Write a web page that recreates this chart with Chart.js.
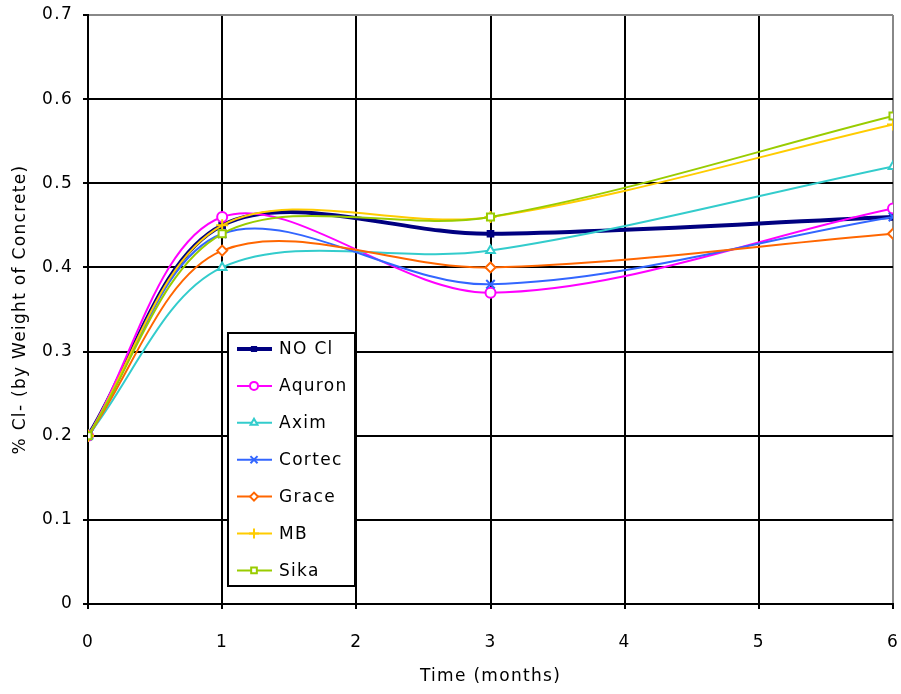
<!DOCTYPE html>
<html>
<head>
<meta charset="utf-8">
<script src="https://cdn.jsdelivr.net/npm/chart.js@4"></script>
<style>
  html, body { margin: 0; padding: 0; background: #fff; }
  #wrap { width: 901px; height: 694px; }
</style>
</head>
<body>
<div id="wrap"><canvas id="chart" width="901" height="694"></canvas></div>
<script>
'use strict';

/* ── Data ── */
const months = [0, 1, 3, 6];
const noCl   = [0.20, 0.45, 0.44, 0.46];
const aquron = [0.20, 0.46, 0.37, 0.47];
const axim   = [0.20, 0.40, 0.42, 0.52];
const cortec = [0.20, 0.44, 0.38, 0.46];
const grace  = [0.20, 0.42, 0.40, 0.44];
const mb     = [0.20, 0.45, 0.46, 0.57];
const sika   = [0.20, 0.44, 0.46, 0.58];

const FONT = '"DejaVu Sans", Arial, sans-serif';
const FSIZE = 17;
const SPACING = '1.3px';

function pts(vals) {
  return vals.map((v, i) => ({ x: months[i], y: v }));
}

function series(label, vals, color, style, opts) {
  return Object.assign({
    label,
    data: pts(vals),
    borderColor: color,
    backgroundColor: '#fff',
    pointBorderColor: color,
    pointBackgroundColor: '#fff',
    pointStyle: style,
    pointRadius: 5,
    pointBorderWidth: 2,
    borderWidth: 2,
    tension: 0.33,
  }, opts || {});
}

const datasets = [
  series('NO Cl',  noCl,   '#000080', 'rect',     { borderWidth: 4, pointBackgroundColor: '#000080', pointRadius: 4 }),
  series('Aquron', aquron, '#ff00ff', 'circle'),
  series('Axim',   axim,   '#33cccc', 'triangle'),
  series('Cortec', cortec, '#3366ff', 'crossRot', { pointRadius: 6 }),
  series('Grace',  grace,  '#ff6600', 'rectRot'),
  series('MB',     mb,     '#ffcc00', 'cross',    { pointRadius: 6 }),
  series('Sika',   sika,   '#99cc00', 'rect'),
];
// later series sit on top, as in the original
datasets.forEach((ds, i) => { ds.order = datasets.length - i; });

// wider text like the original rendering
const spacing = {
  id: 'spacing',
  beforeLayout(chart) { chart.ctx.letterSpacing = SPACING; },
  beforeDraw(chart)   { chart.ctx.letterSpacing = SPACING; },
};

/* ── Boxed legend drawn inside the plot ── */
const boxLegend = {
  id: 'boxLegend',
  afterDraw(chart) {
    const ctx = chart.ctx;
    const x0 = 228, y0 = 333, w = 127, h = 253;
    ctx.save();
    ctx.fillStyle = '#fff';
    ctx.fillRect(x0, y0, w, h);
    ctx.strokeStyle = '#000';
    ctx.lineWidth = 2;
    ctx.strokeRect(x0, y0, w, h);
    ctx.font = FSIZE + 'px ' + FONT;
    ctx.textBaseline = 'middle';
    chart.data.datasets.forEach((ds, i) => {
      const y = y0 + 16 + i * 36.9;
      ctx.strokeStyle = ds.borderColor;
      ctx.lineWidth = ds.borderWidth;
      ctx.beginPath();
      ctx.moveTo(x0 + 9, y);
      ctx.lineTo(x0 + 44, y);
      ctx.stroke();
      ctx.fillStyle = ds.pointBackgroundColor;
      ctx.strokeStyle = ds.pointBorderColor;
      ctx.lineWidth = 2;
      Chart.helpers.drawPoint(ctx, { pointStyle: ds.pointStyle, radius: ds.pointRadius - 1, rotation: 0, borderWidth: 2 }, x0 + 26, y);
      ctx.fillStyle = '#000';
      ctx.fillText(ds.label, x0 + 51, y + 1);
    });
    ctx.restore();
  }
};

function noPad(s) {
  s.paddingTop = 0; s.paddingBottom = 0; s.paddingLeft = 0; s.paddingRight = 0;
}

const tickFont = { size: FSIZE, family: FONT };

new Chart(document.getElementById('chart'), {
  type: 'line',
  data: { datasets },
  plugins: [spacing, boxLegend],
  options: {
    responsive: false,
    animation: false,
    layout: { padding: { top: 15, right: 8, left: 0, bottom: 0 } },
    plugins: {
      legend: { display: false },
      tooltip: { enabled: false },
    },
    scales: {
      x: {
        type: 'linear',
        min: 0, max: 6,
        afterFit: s => { s.height = 90; noPad(s); },
        ticks: { stepSize: 1, color: '#000', font: tickFont, padding: 23, maxRotation: 0 },
        grid: {
          color: c => (c.tick && c.tick.value === 6 ? '#888' : '#000'),
          lineWidth: 2,
          tickLength: 5,
          tickColor: '#000',
        },
        border: { color: '#000', width: 2 },
        title: { display: true, text: 'Time (months)', color: '#000', font: tickFont, padding: { top: 0, bottom: 7 } },
      },
      y: {
        min: 0, max: 0.7,
        afterFit: s => { s.width = 88; noPad(s); },
        ticks: { stepSize: 0.1, color: '#000', font: tickFont, padding: 10 },
        grid: {
          color: c => (c.tick && Math.abs(c.tick.value - 0.7) < 1e-6 ? '#888' : '#000'),
          lineWidth: 2,
          tickLength: 5,
          tickColor: '#000',
        },
        border: { color: '#000', width: 2 },
        title: { display: true, text: '% Cl- (by Weight of Concrete)', color: '#000', font: tickFont, padding: { top: 10, bottom: 0 } },
      },
    },
  },
});
</script>
</body>
</html>
